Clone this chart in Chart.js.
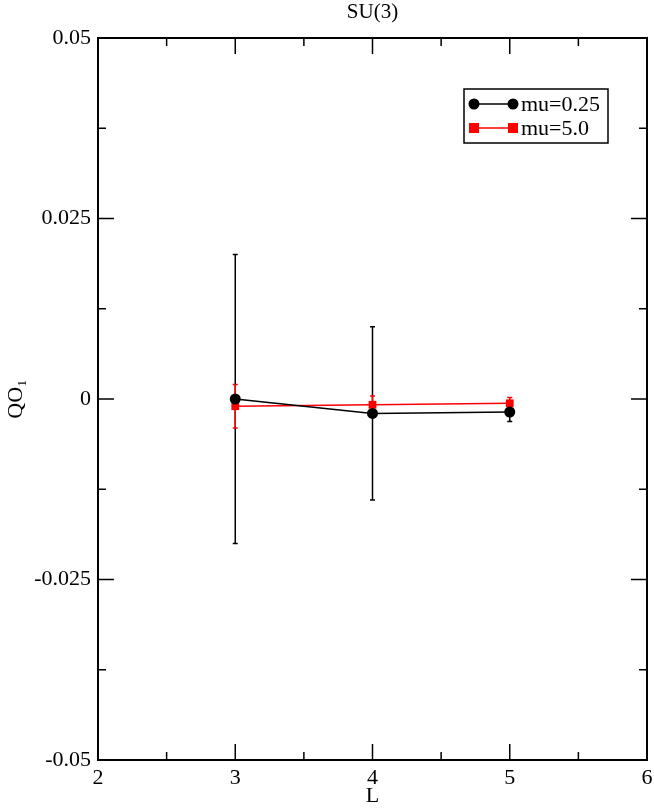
<!DOCTYPE html>
<html>
<head>
<meta charset="utf-8">
<style>
  html, body { margin: 0; padding: 0; background: #fff; }
  #wrap { width: 654px; height: 808px; }
</style>
<script src="https://cdn.jsdelivr.net/npm/chart.js@4.4.1/dist/chart.umd.min.js"></script>
</head>
<body>
<div id="wrap"><canvas id="c" width="654" height="808"></canvas></div>
<script>
// ---- data ----
const L = [3, 4, 5];
const mu025 = [0.0, -0.002, -0.0018];
const mu025Err = [0.02, 0.012, 0.0013];
const mu50 = [-0.001, -0.0008, -0.0006];
const mu50Err = [0.003, 0.0012, 0.0008];
const seriesLabels = ['mu=0.25', 'mu=5.0'];
const xTickValues = [2, 3, 4, 5, 6];
const xTickLabels = ['2', '3', '4', '5', '6'];
const xMinorValues = [2.5, 3.5, 4.5, 5.5];
const yTickValues = [-0.05, -0.025, 0, 0.025, 0.05];
const yTickLabels = ['-0.05', '-0.025', '0', '0.025', '0.05'];
const yMinorValues = [-0.0375, -0.0125, 0.0125, 0.0375];
const errors = [mu025Err, mu50Err];

const SERIF = '"Liberation Serif", "Times New Roman", serif';

const errorBarPlugin = {
  id: 'errorBars',
  beforeDatasetsDraw(chart) {
    const ctx = chart.ctx;
    const xs = chart.scales.x, ys = chart.scales.y;
    chart.data.datasets.forEach((ds, i) => {
      const err = errors[i];
      ctx.save();
      ctx.strokeStyle = ds.borderColor;
      ctx.lineWidth = 1.5;
      ds.data.forEach((p, j) => {
        const px = xs.getPixelForValue(p.x);
        const yTop = ys.getPixelForValue(p.y + err[j]);
        const yBot = ys.getPixelForValue(p.y - err[j]);
        ctx.beginPath();
        ctx.moveTo(px, yTop); ctx.lineTo(px, yBot);
        ctx.moveTo(px - 2.5, yTop); ctx.lineTo(px + 2.5, yTop);
        ctx.moveTo(px - 2.5, yBot); ctx.lineTo(px + 2.5, yBot);
        ctx.stroke();
      });
      ctx.restore();
    });
  }
};

const framePlugin = {
  id: 'frame',
  afterDraw(chart) {
    const ctx = chart.ctx;
    const a = chart.chartArea;
    const xs = chart.scales.x, ys = chart.scales.y;
    ctx.save();
    ctx.strokeStyle = '#000';
    ctx.lineWidth = 1.5;
    ctx.beginPath();
    const tick = (vals, len) => {
      vals.forEach(v => {
        const px = xs.getPixelForValue(v);
        ctx.moveTo(px, a.bottom); ctx.lineTo(px, a.bottom - len);
        ctx.moveTo(px, a.top); ctx.lineTo(px, a.top + len);
      });
    };
    const tickY = (vals, len) => {
      vals.forEach(v => {
        const py = ys.getPixelForValue(v);
        ctx.moveTo(a.left, py); ctx.lineTo(a.left + len, py);
        ctx.moveTo(a.right, py); ctx.lineTo(a.right - len, py);
      });
    };
    tick(xTickValues, 16); tick(xMinorValues, 8);
    tickY(yTickValues, 16); tickY(yMinorValues, 8);
    ctx.stroke();
    ctx.lineWidth = 2;
    ctx.strokeRect(a.left, a.top, a.right - a.left, a.bottom - a.top);

    // legend
    const bx = a.left + 366, by = a.top + 51, bw = 144, bh = 54;
    ctx.lineWidth = 1.5;
    ctx.fillStyle = '#fff';
    ctx.fillRect(bx, by, bw, bh);
    ctx.strokeRect(bx, by, bw, bh);
    chart.data.datasets.forEach((ds, i) => {
      const ry = by + 15 + i * 24;
      const x1 = bx + 10, x2 = bx + 49;
      ctx.strokeStyle = ds.borderColor;
      ctx.lineWidth = 1.5;
      ctx.beginPath(); ctx.moveTo(x1, ry); ctx.lineTo(x2, ry); ctx.stroke();
      ctx.fillStyle = ds.backgroundColor;
      [x1, x2].forEach(x => {
        if (ds.pointStyle === 'rect') {
          ctx.fillRect(x - 5, ry - 5, 10, 10);
        } else {
          ctx.beginPath(); ctx.arc(x, ry, 5.5, 0, Math.PI * 2); ctx.fill();
        }
      });
      ctx.fillStyle = '#000';
      ctx.font = '22px ' + SERIF;
      ctx.textBaseline = 'middle';
      ctx.textAlign = 'left';
      ctx.fillText(ds.label, bx + 57, ry + 1);
    });
    ctx.restore();
  }
};

new Chart(document.getElementById('c'), {
  type: 'line',
  data: {
    datasets: [
      {
        label: seriesLabels[0],
        data: L.map((x, i) => ({ x: x, y: mu025[i] })),
        borderColor: '#000', backgroundColor: '#000',
        borderWidth: 1.5, pointStyle: 'circle', pointRadius: 5.5,
        pointBorderWidth: 0, pointHoverRadius: 5.5
      },
      {
        label: seriesLabels[1],
        data: L.map((x, i) => ({ x: x, y: mu50[i] })),
        borderColor: '#ff0000', backgroundColor: '#ff0000',
        borderWidth: 1.5, pointStyle: 'rect', pointRadius: 5.5,
        pointBorderWidth: 0, pointHoverRadius: 5.5
      }
    ]
  },
  options: {
    responsive: false,
    animation: false,
    layout: { padding: { left: 0, right: 7, top: 0, bottom: 0 } },
    plugins: {
      legend: { display: false },
      tooltip: { enabled: false },
      title: {
        display: true, text: 'SU(3)', fullSize: false,
        color: '#000',
        font: { family: SERIF, size: 21, weight: 'normal', lineHeight: 1.2 },
        padding: { top: 0, bottom: 12.8 }
      }
    },
    scales: {
      x: {
        type: 'linear', min: 2, max: 6,
        grid: { display: false, drawTicks: false },
        border: { display: false },
        afterBuildTicks: s => { s.ticks = xTickValues.map(v => ({ value: v })); },
        afterFit: s => { s.height = 48; s.paddingLeft = 0; s.paddingRight = 0; },
        ticks: {
          color: '#000', padding: 5,
          font: { family: SERIF, size: 22 },
          callback: (v) => xTickLabels[xTickValues.indexOf(v)]
        },
        title: {
          display: true, text: 'L', color: '#000',
          font: { family: SERIF, size: 22 }, padding: { top: 0, bottom: -1 }
        }
      },
      y: {
        type: 'linear', min: -0.05, max: 0.05,
        grid: { display: false, drawTicks: false },
        border: { display: false },
        afterBuildTicks: s => { s.ticks = yTickValues.map(v => ({ value: v })); },
        afterFit: s => { s.width = 98; s.paddingTop = 0; s.paddingBottom = 0; },
        ticks: {
          color: '#000', padding: 7,
          font: { family: SERIF, size: 22 },
          callback: (v) => yTickLabels[yTickValues.indexOf(v)]
        },
        title: {
          display: true, text: 'QO₁', color: '#000',
          font: { family: SERIF, size: 22 }, padding: { top: 3, bottom: 0 }
        }
      }
    }
  },
  plugins: [errorBarPlugin, framePlugin]
});
</script>
</body>
</html>
